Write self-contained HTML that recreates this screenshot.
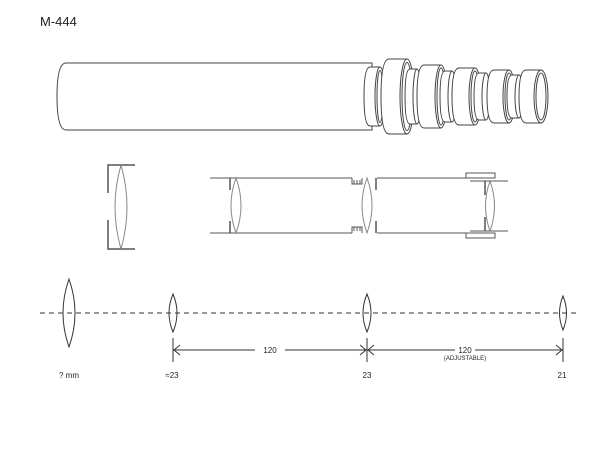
<!DOCTYPE html>
<html><head><meta charset="utf-8"><style>
html,body{margin:0;padding:0;background:#fff;width:600px;height:464px;overflow:hidden}
svg{display:block}
text{font-family:"Liberation Sans",sans-serif;fill:#222}
</style></head><body>
<svg width="600" height="464" viewBox="0 0 600 464" xmlns="http://www.w3.org/2000/svg">
<text x="40" y="26" font-size="13">M-444</text>
<g fill="#fff" stroke="#444" stroke-width="1">
<!-- main tube -->
<path d="M66 63 L372 63 L372 130 L66 130 Q57 130 57 96.5 Q57 63 66 63 Z"/>
<!-- cylinders: collar then ring -->
<g id="c">
</g>
<path d="M370 67 L380 67 L380 126 L370 126 Q364 126 364 96.5 Q364 67 370 67Z"/><ellipse cx="380" cy="96.5" rx="5" ry="29.5"/><ellipse cx="380" cy="96.5" rx="3" ry="26"/>
<path d="M389 59 L407 59 L407 134 L389 134 Q381 134 381 96.5 Q381 59 389 59Z"/><ellipse cx="407" cy="96.5" rx="7" ry="37.5"/><ellipse cx="407" cy="96.5" rx="5" ry="34"/>
<path d="M410 69 L417 69 L417 124 L410 124 Q405 124 405 96.5 Q405 69 410 69Z"/><ellipse cx="417" cy="96.5" rx="4" ry="27.5"/>
<path d="M424 65 L441 65 L441 128 L424 128 Q417 128 417 96.5 Q417 65 424 65Z"/><ellipse cx="441" cy="96.5" rx="6" ry="31.5"/><ellipse cx="441" cy="96.5" rx="4" ry="28.5"/>
<path d="M445 71 L452 71 L452 122 L445 122 Q440 122 440 96.5 Q440 71 445 71Z"/><ellipse cx="452" cy="96.5" rx="4" ry="25.5"/>
<path d="M459 68 L475 68 L475 125 L459 125 Q452 125 452 96.5 Q452 68 459 68Z"/><ellipse cx="475" cy="96.5" rx="6" ry="28.5"/><ellipse cx="475" cy="96.5" rx="4" ry="25.5"/>
<path d="M479 73 L486 73 L486 120 L479 120 Q474 120 474 96.5 Q474 73 479 73Z"/><ellipse cx="486" cy="96.5" rx="4" ry="23.5"/>
<path d="M494 70 L509 70 L509 123 L494 123 Q487 123 487 96.5 Q487 70 494 70Z"/><ellipse cx="509" cy="96.5" rx="6" ry="26.5"/><ellipse cx="509" cy="96.5" rx="4" ry="23.5"/>
<path d="M512 75 L519 75 L519 118 L512 118 Q507 118 507 96.5 Q507 75 512 75Z"/><ellipse cx="519" cy="96.5" rx="4" ry="21.5"/>
<path d="M526 70 L541 70 L541 123 L526 123 Q519 123 519 96.5 Q519 70 526 70Z"/><ellipse cx="541" cy="96.5" rx="7" ry="26.5"/><ellipse cx="541" cy="96.5" rx="5" ry="23.5"/>
</g>
<!-- middle -->
<g fill="none" stroke="#555" stroke-width="1">
<path d="M135 165 H108 V193 M108 220 V249 H135" stroke-width="1.5"/>
<path d="M121 165 Q133 207 121 249 Q109 207 121 165Z" stroke="#888"/>
<path d="M210 178 H352 M210 233 H352 M377 178 H470 M377 233 H470"/>
<path d="M230 178 V190 M230 221 V233" stroke-width="1.5"/>
<path d="M236 178 Q246 205.5 236 233 Q226 205.5 236 178Z" stroke="#888"/>
<path d="M352 178 V184 H362 V178 M354 184 V180 M357 184 V180 M360 184 V180 M352 233 V227 H362 V233 M354 227 V231 M357 227 V231 M360 227 V231"/>
<path d="M367 178 Q377 205.5 367 233 Q357 205.5 367 178Z" stroke="#888"/>
<path d="M376 178 V190 M376 221 V233" stroke-width="1.5"/>
<rect x="466" y="173" width="29" height="5"/><rect x="466" y="233" width="29" height="5"/>
<path d="M470 181 H508 M470 231 H508"/>
<path d="M485 181 V195 M485 217 V231" stroke-width="1.5"/>
<path d="M490 181 Q499 206 490 231 Q481 206 490 181Z" stroke="#888"/>
</g>
<!-- bottom -->
<g fill="none" stroke="#333" stroke-width="1">
<line x1="40" y1="313" x2="576" y2="313" stroke-dasharray="5,4"/>
<path d="M69 279 Q81 313 69 347 Q57 313 69 279Z"/>
<path d="M173 294 Q181 313 173 332 Q165 313 173 294Z"/>
<path d="M367 294 Q375 313 367 332 Q359 313 367 294Z"/>
<path d="M563 296 Q570 313 563 330 Q556 313 563 296Z"/>
<path d="M173 338 V362 M367 338 V362 M563 338 V362"/>
<path d="M173 350 H255 M285 350 H367 M367 350 H455 M475 350 H563"/>
<path d="M180 345 L174 350 L180 355 M360 345 L366 350 L360 355 M374 345 L368 350 L374 355 M556 345 L562 350 L556 355"/>
</g>
<g font-size="8" text-anchor="middle">
<text x="270" y="353">120</text>
<text x="465" y="353">120</text>
<text x="465" y="360" font-size="6">(ADJUSTABLE)</text>
<text x="69" y="378">? mm</text>
<text x="172" y="378">≈23</text>
<text x="367" y="378">23</text>
<text x="562" y="378">21</text>
</g>
</svg>
</body></html>
